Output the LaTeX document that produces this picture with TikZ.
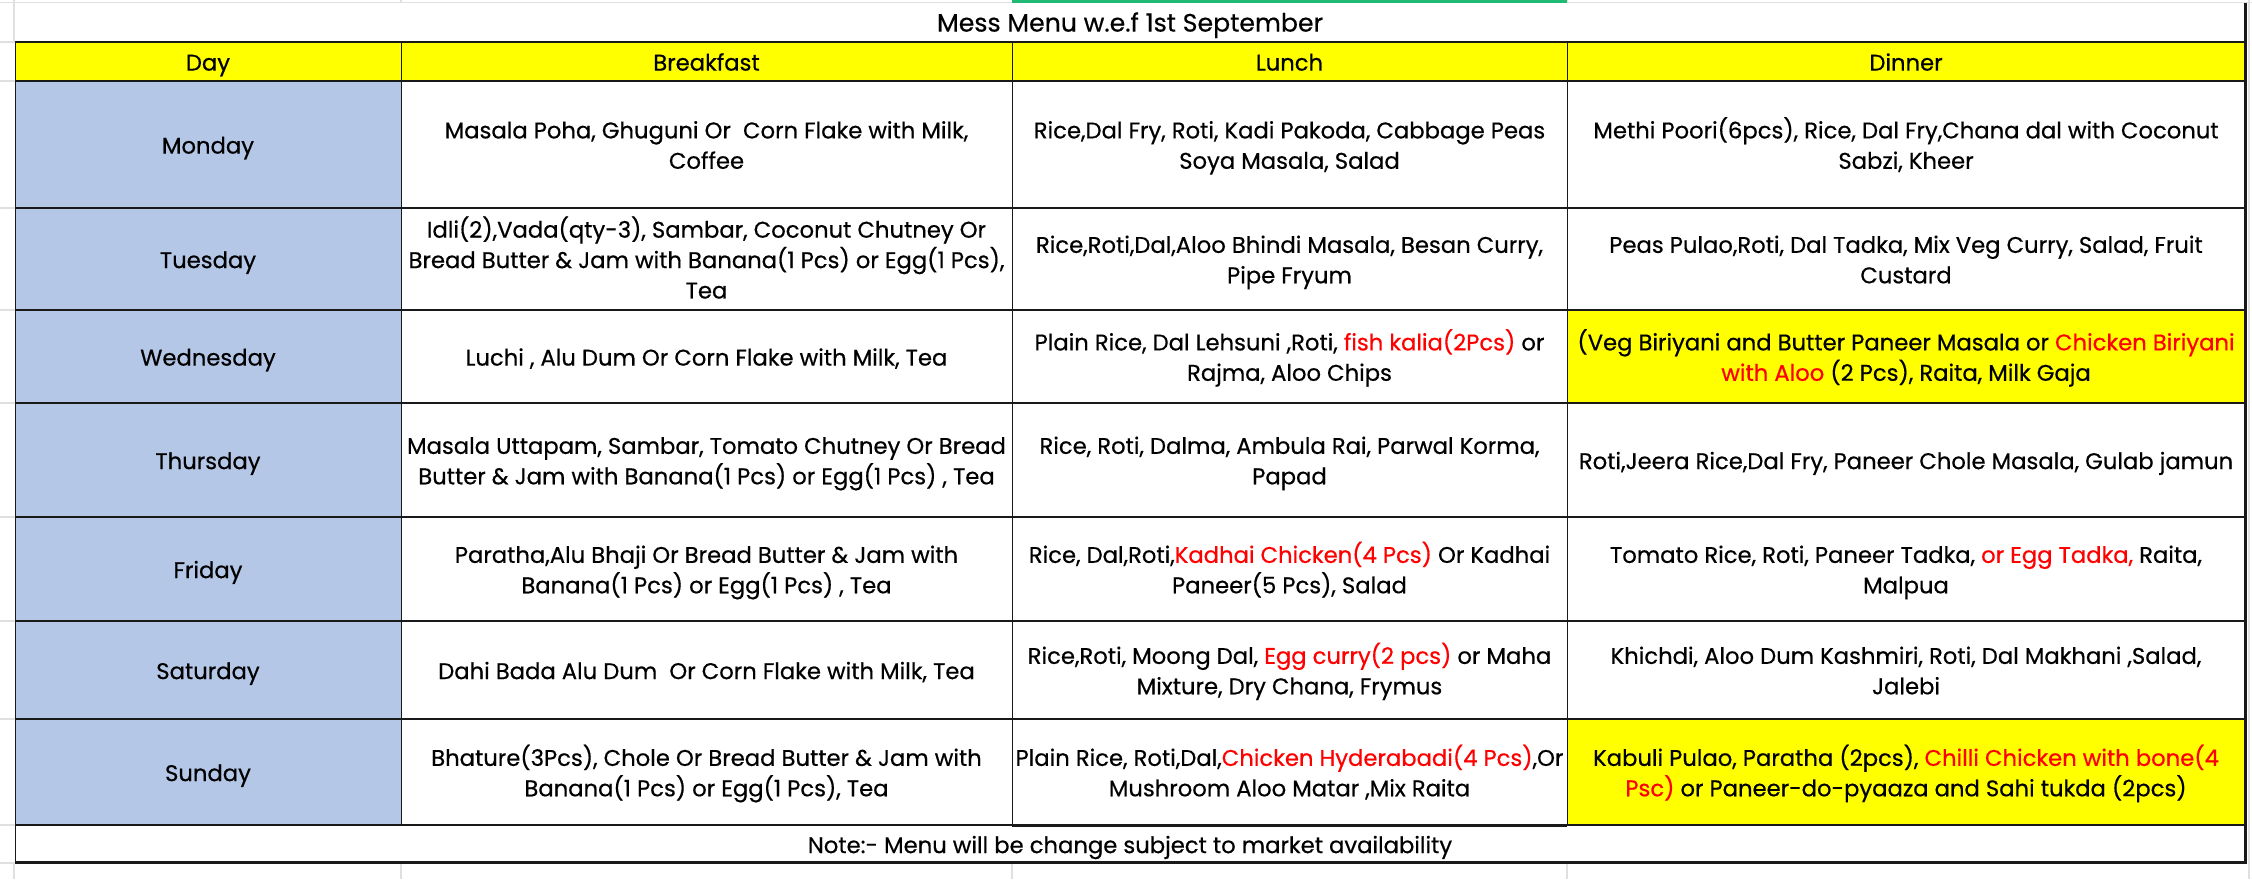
\documentclass[tikz,border=0pt]{standalone}
\usepackage{fontspec}
\setmainfont{Poppins}[FakeBold=0.5]
\definecolor{hdryellow}{RGB}{255,255,0}
\definecolor{dayblue}{RGB}{180,199,231}
\definecolor{gridgray}{RGB}{224,224,224}
\definecolor{selgreen}{RGB}{33,186,117}
\definecolor{menured}{RGB}{255,0,0}
\definecolor{linedark}{RGB}{25,25,25}
\newcommand\rd[1]{\textcolor{menured}{#1}}
\newcommand\mcell[7]{\fill[#6] (#2,#4) rectangle (#3,#5);
  \node[cellsty] (#1) at ({(#2+#3)/2},{(#4+#5)/2+3}) {\strut#7\strut};}
\begin{document}
\begin{tikzpicture}[x=0.5pt,y=-0.5pt,
  cellsty/.style={inner sep=0pt, align=center, font=\fontsize{11.35}{15.2}\selectfont, text=black},
  faint/.style={draw=gridgray, line width=0.6pt},
  vline/.style={draw=linedark, line width=0.5pt},
  hline/.style={draw=linedark, line width=0.9pt},
  thick border/.style={draw=linedark, line width=1.5pt}]
\useasboundingbox (0,0) rectangle (2252,879);
\fill[white] (0,0) rectangle (2252,879);
% spreadsheet gridlines
\foreach \yy in {2.7,42,81,208,310,403,517,621,719,825,863} \draw[faint] (0,\yy) -- (15,\yy);
\draw[faint] (0,2.7) -- (2252,2.7);
\foreach \xx in {14,401,1567} \draw[faint] (\xx,0) -- (\xx,3);
\draw[faint] (14,0) -- (14,42);
\foreach \xx in {14,401,1012,1567,2249} \draw[faint] (\xx,863) -- (\xx,879);
\draw[faint] (2249,0) -- (2249,879);
\fill[selgreen] (1012,0) rectangle (1567,3.5);
% title
\mcell{title}{15}{2245}{3}{42}{white}{\fontsize{12.6}{15}\selectfont Mess Menu w.e.f 1st September}
% header
\mcell{hday}{15}{401}{42}{81}{hdryellow}{Day}
\mcell{hbrk}{401}{1012}{42}{81}{hdryellow}{Breakfast}
\mcell{hlun}{1012}{1567}{42}{81}{hdryellow}{Lunch}
\mcell{hdin}{1567}{2245}{42}{81}{hdryellow}{Dinner}
% Monday
\mcell{mon}{15}{401}{81}{208}{dayblue}{Monday}
\mcell{monb}{401}{1012}{81}{208}{white}{Masala Poha, Ghuguni Or\ \ Corn Flake with Milk,\\Coffee}
\mcell{monl}{1012}{1567}{81}{208}{white}{Rice,Dal Fry, Roti, Kadi Pakoda, Cabbage Peas\\Soya Masala, Salad}
\mcell{mond}{1567}{2245}{81}{208}{white}{Methi Poori(6pcs), Rice, Dal Fry,Chana dal with Coconut\\Sabzi, Kheer}
% Tuesday
\mcell{tue}{15}{401}{208}{310}{dayblue}{Tuesday}
\mcell{tueb}{401}{1012}{208}{310}{white}{Idli(2),Vada(qty-3), Sambar, Coconut Chutney Or\\Bread Butter \& Jam with Banana(1 Pcs) or Egg(1 Pcs),\\Tea}
\mcell{tuel}{1012}{1567}{208}{310}{white}{Rice,Roti,Dal,Aloo Bhindi Masala, Besan Curry,\\Pipe Fryum}
\mcell{tued}{1567}{2245}{208}{310}{white}{Peas Pulao,Roti, Dal Tadka, Mix Veg Curry, Salad, Fruit\\Custard}
% Wednesday
\mcell{wed}{15}{401}{310}{403}{dayblue}{Wednesday}
\mcell{wedb}{401}{1012}{310}{403}{white}{Luchi , Alu Dum Or Corn Flake with Milk, Tea}
\mcell{wedl}{1012}{1567}{310}{403}{white}{Plain Rice, Dal Lehsuni ,Roti, \rd{fish kalia(2Pcs)} or\\Rajma, Aloo Chips}
\mcell{wedd}{1567}{2245}{310}{403}{hdryellow}{(Veg Biriyani and Butter Paneer Masala or \rd{Chicken Biriyani}\\\rd{with Aloo} (2 Pcs), Raita, Milk Gaja}
% Thursday
\mcell{thu}{15}{401}{403}{517}{dayblue}{Thursday}
\mcell{thub}{401}{1012}{403}{517}{white}{Masala Uttapam, Sambar, Tomato Chutney Or Bread\\Butter \& Jam with Banana(1 Pcs) or Egg(1 Pcs) , Tea}
\mcell{thul}{1012}{1567}{403}{517}{white}{Rice, Roti, Dalma, Ambula Rai, Parwal Korma,\\Papad}
\mcell{thud}{1567}{2245}{403}{517}{white}{Roti,Jeera Rice,Dal Fry, Paneer Chole Masala, Gulab jamun}
% Friday
\mcell{fri}{15}{401}{517}{621}{dayblue}{Friday}
\mcell{frib}{401}{1012}{517}{621}{white}{Paratha,Alu Bhaji Or Bread Butter \& Jam with\\Banana(1 Pcs) or Egg(1 Pcs) , Tea}
\mcell{fril}{1012}{1567}{517}{621}{white}{Rice, Dal,Roti,\rd{Kadhai Chicken(4 Pcs)} Or Kadhai\\Paneer(5 Pcs), Salad}
\mcell{frid}{1567}{2245}{517}{621}{white}{Tomato Rice, Roti, Paneer Tadka, \rd{or Egg Tadka,} Raita,\\Malpua}
% Saturday
\mcell{sat}{15}{401}{621}{719}{dayblue}{Saturday}
\mcell{satb}{401}{1012}{621}{719}{white}{Dahi Bada Alu Dum\ \ Or Corn Flake with Milk, Tea}
\mcell{satl}{1012}{1567}{621}{719}{white}{Rice,Roti, Moong Dal, \rd{Egg curry(2 pcs)} or Maha\\Mixture, Dry Chana, Frymus}
\mcell{satd}{1567}{2245}{621}{719}{white}{Khichdi, Aloo Dum Kashmiri, Roti, Dal Makhani ,Salad,\\Jalebi}
% Sunday
\mcell{sun}{15}{401}{719}{825}{dayblue}{Sunday}
\mcell{sunb}{401}{1012}{719}{825}{white}{Bhature(3Pcs), Chole Or Bread Butter \& Jam with\\Banana(1 Pcs) or Egg(1 Pcs), Tea}
\mcell{sunl}{1012}{1567}{719}{825}{white}{Plain Rice, Roti,Dal,\rd{Chicken Hyderabadi(4 Pcs)},Or\\Mushroom Aloo Matar ,Mix Raita}
\mcell{sund}{1567}{2245}{719}{825}{hdryellow}{Kabuli Pulao, Paratha (2pcs), \rd{Chilli Chicken with bone(4}\\\rd{Psc)} or Paneer-do-pyaaza and Sahi tukda (2pcs)}
% note
\mcell{note}{15}{2245}{825}{863}{white}{Note:- Menu will be change subject to market availability}
% grid lines
\foreach \yy in {42,81,208,310,403,517,621,719,825} \draw[hline] (15,\yy) -- (2245,\yy);
\foreach \xx in {401,1012,1567} \draw[vline] (\xx,42) -- (\xx,825);
\draw[vline] (15,42) -- (15,863);
\draw[thick border] (1012,825) -- (1567,825);
\draw[thick border] (15,862.5) -- (2245.5,862.5);
\draw[thick border] (2245.5,3) -- (2245.5,863.5);
\end{tikzpicture}
\end{document}
